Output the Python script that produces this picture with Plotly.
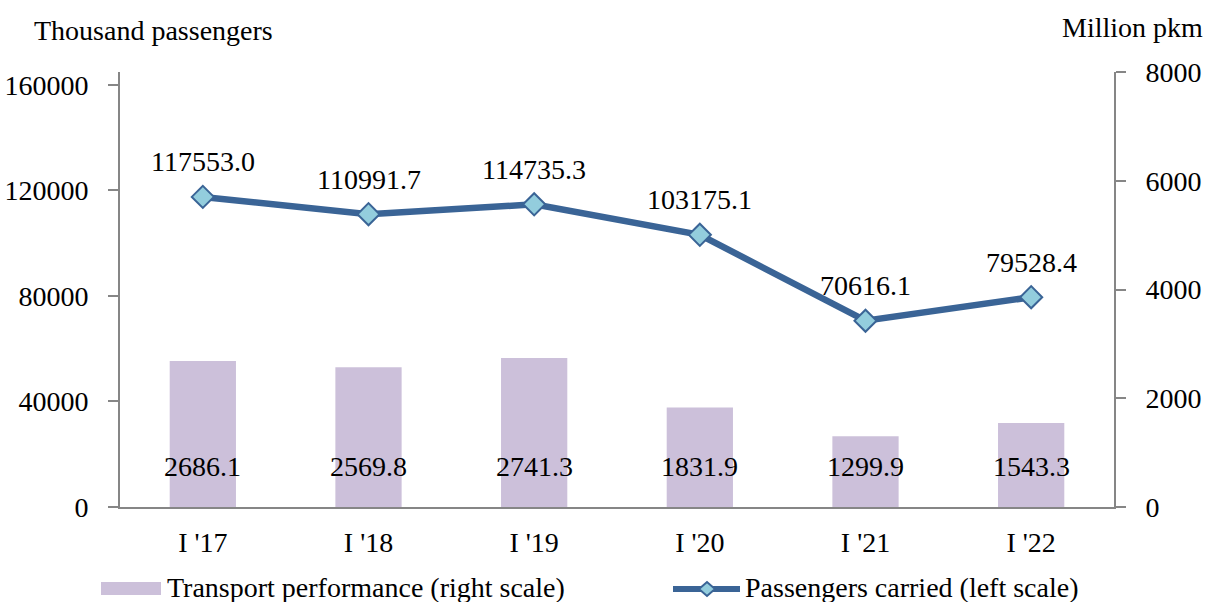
import plotly.graph_objects as go

# Data
quarters = ["I '17", "I '18", "I '19", "I '20", "I '21", "I '22"]
passengers = [117553.0, 110991.7, 114735.3, 103175.1, 70616.1, 79528.4]   # thousand passengers (left)
performance = [2686.1, 2569.8, 2741.3, 1831.9, 1299.9, 1543.3]            # million pkm (right)

left_ticks = [0, 40000, 80000, 120000, 160000]
right_ticks = [0, 2000, 4000, 6000, 8000]

bar_name = "Transport performance (right scale)"
line_name = "Passengers carried (left scale)"

font_family = "Liberation Serif, Times New Roman, serif"
bar_color = "#CCC0DA"
line_color = "#3A6496"
marker_fill = "#93CDDD"
axis_color = "#868686"
fsize = 28

# plot area in pixels (used only to place the hand-made legend / titles)
L, R, T, B = 120, 1114, 72, 507


def px(x):
    return (x - L) / (R - L)


def py(y):
    return (B - y) / (B - T)


def main():
    fig = go.Figure()

    fig.add_trace(go.Bar(
        x=quarters,
        y=performance,
        yaxis="y2",
        name=bar_name,
        marker=dict(color=bar_color, line=dict(width=0)),
        width=0.4,
        showlegend=False,
    ))

    fig.add_trace(go.Scatter(
        x=quarters,
        y=passengers,
        yaxis="y",
        mode="lines+markers",
        name=line_name,
        line=dict(color=line_color, width=6.5),
        marker=dict(symbol="diamond", size=17, color=marker_fill,
                    line=dict(color=line_color, width=2)),
        showlegend=False,
    ))

    txt = dict(size=fsize, color="black", family=font_family)
    annotations = []
    # labels above the line points
    for q, v in zip(quarters, passengers):
        annotations.append(dict(x=q, y=v, xref="x", yref="y", text=f"{v:.1f}",
                                showarrow=False, yshift=35, font=txt))
    # labels near the base of the bars
    for q, v in zip(quarters, performance):
        annotations.append(dict(x=q, y=750, xref="x", yref="y2", text=f"{v:.1f}",
                                showarrow=False, font=txt))
    # axis titles
    annotations.append(dict(x=px(32), y=py(30), xref="paper", yref="paper",
                            text="Thousand passengers", showarrow=False,
                            xanchor="left", yanchor="middle", font=txt))
    annotations.append(dict(x=px(1205), y=py(27), xref="paper", yref="paper",
                            text="Million pkm", showarrow=False,
                            xanchor="right", yanchor="middle", font=txt))
    # legend texts
    annotations.append(dict(x=px(165), y=py(587), xref="paper", yref="paper",
                            text=bar_name, showarrow=False,
                            xanchor="left", yanchor="middle", font=txt))
    annotations.append(dict(x=px(743), y=py(587), xref="paper", yref="paper",
                            text=line_name, showarrow=False,
                            xanchor="left", yanchor="middle", font=txt))

    # legend swatches
    dx, dy = 8 / (R - L), 7 / (B - T)
    cx, cy = px(707), py(589)
    shapes = [
        dict(type="rect", xref="paper", yref="paper",
             x0=px(101), x1=px(161), y0=py(595), y1=py(582),
             fillcolor=bar_color, line=dict(width=0)),
        dict(type="line", xref="paper", yref="paper",
             x0=px(673), x1=px(740), y0=cy, y1=cy,
             line=dict(color=line_color, width=6)),
        dict(type="path", xref="paper", yref="paper",
             path=f"M {cx - dx},{cy} L {cx},{cy + dy} L {cx + dx},{cy} L {cx},{cy - dy} Z",
             fillcolor=marker_fill, line=dict(color=line_color, width=2)),
    ]

    fig.update_layout(
        width=1207,
        height=602,
        margin=dict(l=L, r=1207 - R, t=T, b=602 - B, autoexpand=False),
        paper_bgcolor="white",
        plot_bgcolor="white",
        font=dict(family=font_family, size=fsize, color="black"),
        showlegend=False,
        annotations=annotations,
        shapes=shapes,
        xaxis=dict(
            showline=True, linecolor=axis_color, linewidth=2,
            ticks="", showgrid=False, zeroline=False,
            ticklabelstandoff=9, automargin=False,
        ),
        yaxis=dict(
            range=[0, 164900],
            tickvals=left_ticks, tickformat="d",
            showline=True, linecolor=axis_color, linewidth=2,
            ticks="outside", ticklen=10, tickcolor=axis_color, tickwidth=2,
            showgrid=False, zeroline=False,
            ticklabelstandoff=14, automargin=False,
        ),
        yaxis2=dict(
            range=[0, 8000],
            tickvals=right_ticks, tickformat="d",
            overlaying="y", side="right",
            showline=True, linecolor=axis_color, linewidth=2,
            ticks="outside", ticklen=10, tickcolor=axis_color, tickwidth=2,
            showgrid=False, zeroline=False,
            ticklabelstandoff=14, automargin=False,
        ),
    )

    # remove the default page margin so the figure sits at the window's corner
    fig.write_html("out.html", config={"displayModeBar": False},
                   post_script="document.body.style.margin='0';")


if __name__ == "__main__":
    main()
